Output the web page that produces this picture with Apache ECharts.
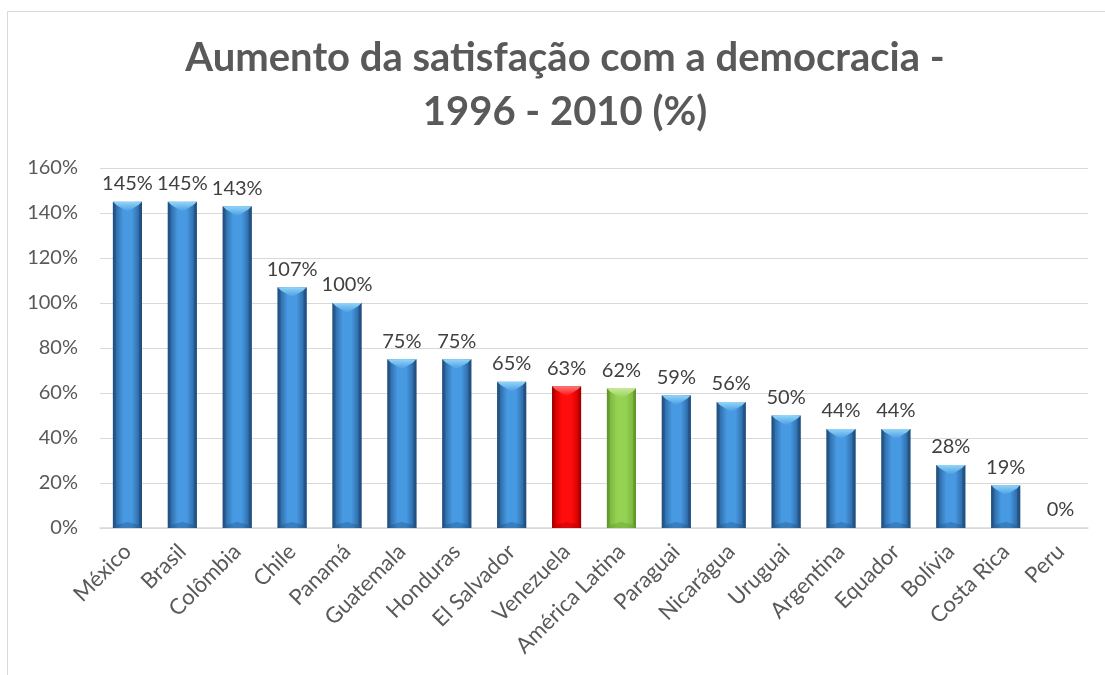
<!DOCTYPE html>
<html>
<head>
<meta charset="utf-8">
<script src="https://cdn.jsdelivr.net/npm/echarts@6/dist/echarts.min.js"></script>
<style>
  html, body { margin: 0; padding: 0; background: #ffffff; }
  #chart { width: 1105px; height: 675px; }
</style>
</head>
<body>
<div id="chart"></div>
<script>
// Countries ordered by growth in satisfaction with democracy, 1996-2010
const categories = ['México', 'Brasil', 'Colômbia', 'Chile', 'Panamá', 'Guatemala', 'Honduras',
  'El Salvador', 'Venezuela', 'América Latina', 'Paraguai', 'Nicarágua', 'Uruguai', 'Argentina',
  'Equador', 'Bolívia', 'Costa Rica', 'Peru'];
const values = [145, 145, 143, 107, 100, 75, 75, 65, 63, 62, 59, 56, 50, 44, 44, 28, 19, 0];
const yTicks = [0, 20, 40, 60, 80, 100, 120, 140, 160];

const FONT = 'Lato, "Open Sans", sans-serif';

// Palette per bar: body, edge, dark edge, light bevel
const palettes = {
  blue:  { mid: '#4799e2', edge: '#2f6ca8', dark: '#1f4d7c', light: '#92d6f8' },
  red:   { mid: '#ff0d0d', edge: '#d80000', dark: '#a00000', light: '#ff7a7a' },
  green: { mid: '#95d152', edge: '#7cb93e', dark: '#5f922c', light: '#c4e896' }
};
function paletteFor(name) {
  if (name === 'Venezuela') return palettes.red;
  if (name === 'América Latina') return palettes.green;
  return palettes.blue;
}

function bodyGradient(p) {
  return new echarts.graphic.LinearGradient(0, 0, 1, 0, [
    { offset: 0, color: p.dark },
    { offset: 0.1, color: p.edge },
    { offset: 0.35, color: p.mid },
    { offset: 0.65, color: p.mid },
    { offset: 0.9, color: p.edge },
    { offset: 1, color: p.dark }
  ]);
}

const chart = echarts.init(document.getElementById('chart'), null, { renderer: 'canvas' });

const barData = values.map((v, i) => ({
  value: v,
  itemStyle: { color: bodyGradient(paletteFor(categories[i])) }
}));

chart.setOption({
  backgroundColor: '#ffffff',
  animation: false,
  title: {
    text: 'Aumento da satisfação com a democracia -\n1996 - 2010 (%)',
    left: 565,
    textAlign: 'center',
    top: 31,
    padding: 0,
    textStyle: {
      fontFamily: FONT,
      fontWeight: 'bold',
      fontSize: 40,
      lineHeight: 54,
      color: '#595959'
    }
  },
  graphic: [{
    type: 'rect',
    shape: { x: 7.5, y: 11.5, width: 1120, height: 700 },
    style: { fill: 'none', stroke: '#d9d9d9', lineWidth: 1 },
    silent: true
  }],
  grid: { left: 100, right: 17, top: 168, bottom: 147 },
  xAxis: {
    type: 'category',
    data: categories,
    axisLine: { show: true, lineStyle: { color: '#d9d9d9', width: 1.5 } },
    axisTick: { show: false },
    axisLabel: {
      rotate: 45,
      interval: 0,
      margin: 20,
      fontFamily: FONT,
      fontSize: 22,
      color: '#595959'
    }
  },
  yAxis: {
    type: 'value',
    min: yTicks[0],
    max: yTicks[yTicks.length - 1],
    interval: 20,
    axisLine: { show: false },
    axisTick: { show: false },
    splitLine: { lineStyle: { color: '#d9d9d9', width: 1 } },
    axisLabel: {
      margin: 22,
      fontFamily: FONT,
      fontSize: 20,
      color: '#595959',
      formatter: v => v + '%'
    }
  },
  series: [
    {
      type: 'bar',
      data: barData,
      barWidth: '53%',
      label: {
        show: true,
        position: 'top',
        distance: 8,
        fontFamily: FONT,
        fontSize: 20,
        color: '#404040',
        formatter: p => p.value + '%'
      },
      z: 2
    },
    {
      // bevelled top and bottom faces over each bar
      type: 'custom',
      data: values.map((v, i) => [i, v]),
      z: 3,
      silent: true,
      renderItem: function (params, api) {
        const idx = api.value(0);
        const v = api.value(1);
        if (v <= 0) return null;
        const top = api.coord([idx, v]);
        const base = api.coord([idx, 0]);
        const bandW = api.size([1, 0])[0];
        const w = bandW * 0.53;
        const x0 = top[0] - w / 2;
        const x1 = top[0] + w / 2;
        const y0 = top[1];
        const y1 = base[1];
        const h = y1 - y0;
        const bev = Math.min(10, h / 3);
        const p = paletteFor(categories[idx]);
        return {
          type: 'group',
          children: [
            {
              type: 'polygon',
              shape: { points: [[x0, y0], [x1, y0], [x1 - 3, y0 + 3], [top[0], y0 + bev], [x0 + 3, y0 + 3]] },
              style: {
                fill: new echarts.graphic.LinearGradient(0, 0, 0, 1, [
                  { offset: 0, color: p.light },
                  { offset: 1, color: p.mid }
                ])
              }
            },
            {
              type: 'polygon',
              shape: { points: [[x0, y0], [x0 + 3, y0 + 3], [x0 + 3, y1 - 3], [x0, y1]] },
              style: { fill: p.dark, opacity: 0.5 }
            },
            {
              type: 'polygon',
              shape: { points: [[x1, y0], [x1 - 3, y0 + 3], [x1 - 3, y1 - 3], [x1, y1]] },
              style: { fill: p.dark, opacity: 0.6 }
            },
            {
              type: 'polygon',
              shape: { points: [[x0, y1], [x1, y1], [x1 - 3, y1 - 3], [top[0], y1 - Math.min(6, h / 4)], [x0 + 3, y1 - 3]] },
              style: { fill: p.dark, opacity: 0.35 }
            }
          ]
        };
      }
    }
  ]
});
</script>
</body>
</html>
